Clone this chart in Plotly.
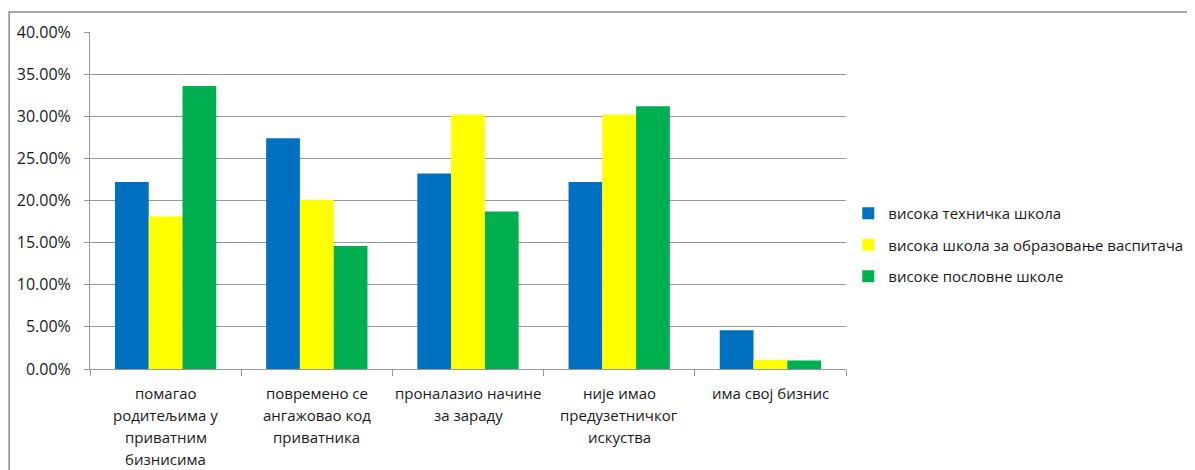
import plotly.graph_objects as go

categories = [
    "помагао родитељима у приватним бизнисима",
    "повремено се ангажовао код приватника",
    "проналазио начине за зараду",
    "није имао предузетничког искуства",
    "има свој бизнис",
]
category_label_lines = [
    ["помагао", "родитељима у", "приватним", "бизнисима"],
    ["повремено се", "ангажовао код", "приватника"],
    ["проналазио начине", "за зараду"],
    ["није имао", "предузетничког", "искуства"],
    ["има свој бизнис"],
]
series_names = [
    "висока техничка школа",
    "висока школа за образовање васпитача",
    "високе пословне школе",
]
tehnicka = [0.222, 0.274, 0.232, 0.222, 0.046]
vaspitaci = [0.181, 0.201, 0.302, 0.302, 0.011]
poslovne = [0.336, 0.146, 0.187, 0.312, 0.010]
colors = ["#0070C0", "#FFFF00", "#00B050"]
tick_vals = [0, 0.05, 0.10, 0.15, 0.20, 0.25, 0.30, 0.35, 0.40]

FONT = "Open Sans, Liberation Sans, sans-serif"
TXT = "#1a1a1a"

fig = go.Figure()
for i, (name, vals) in enumerate(zip(series_names, [tehnicka, vaspitaci, poslovne])):
    fig.add_trace(go.Bar(
        x=categories, y=vals, name=name,
        marker=dict(color=colors[i], line=dict(width=0)),
        legendgroup=f"g{i}",
    ))

annotations = []
for cat, lines in zip(categories, category_label_lines):
    for k, line in enumerate(lines):
        annotations.append(dict(
            x=cat, xref="x", y=0, yref="paper", text=line, showarrow=False,
            xanchor="center", yanchor="middle", yshift=-(24 + 22 * k),
            font=dict(family=FONT, size=15, color=TXT),
        ))

fig.update_layout(
    width=1187, height=462,
    barmode="group", bargap=0.33, bargroupgap=0,
    paper_bgcolor="white", plot_bgcolor="white",
    margin=dict(l=82, r=349, t=24, b=101, autoexpand=False),
    font=dict(family=FONT, size=15, color=TXT),
    legend=dict(x=1.003, y=0.368, xanchor="left", yanchor="middle",
                font=dict(size=15, color=TXT), tracegroupgap=9,
                traceorder="grouped", itemwidth=30),
    showlegend=True,
    annotations=annotations,
    shapes=[dict(type="rect", xref="paper", yref="paper",
                 x0=-0.107, x1=1.6, y0=-0.6, y1=1.059,
                 line=dict(color="#8c8c8c", width=1.5), fillcolor="rgba(0,0,0,0)",
                 layer="below")],
)
fig.update_yaxes(
    range=[0, 0.40], tickvals=tick_vals, tickformat=".2%",
    tickfont=dict(size=16),
    showgrid=True, gridcolor="#999999", gridwidth=1,
    showline=True, linecolor="#999999", linewidth=1,
    ticks="outside", ticklen=5, tickcolor="#999999",
    ticklabelstandoff=10,
    zeroline=False, fixedrange=True,
)
fig.update_xaxes(
    showline=True, linecolor="#999999", linewidth=1,
    ticks="outside", tickson="boundaries", ticklen=6, tickcolor="#999999",
    showgrid=False, showticklabels=False,
)

fig.write_html("out.html")
